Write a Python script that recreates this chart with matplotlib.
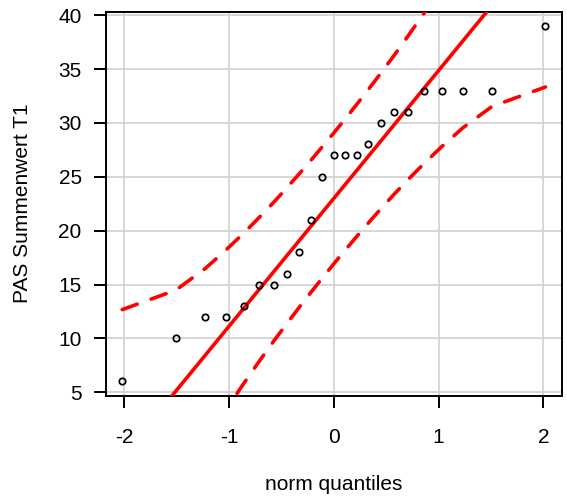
import numpy as np
import matplotlib
matplotlib.use("Agg")
import matplotlib.pyplot as plt

# Data (sorted sample values) and their normal quantiles
x_quantiles = [-2.02, -1.51, -1.23, -1.03, -0.86, -0.71, -0.57, -0.45, -0.33,
               -0.22, -0.11, 0.00, 0.11, 0.22, 0.33, 0.45, 0.57, 0.71, 0.86,
               1.03, 1.23, 1.51, 2.02]
y_values = [6, 10, 12, 12, 13, 15, 15, 16, 18, 21, 25, 27, 27, 27, 28, 30,
            31, 31, 33, 33, 33, 33, 39]
x_ticks = [-2, -1, 0, 1, 2]
y_ticks = [5, 10, 15, 20, 25, 30, 35, 40]
x_label = "norm quantiles"
y_label = "PAS Summenwert T1"

z = np.array(x_quantiles)
y = np.array(y_values, dtype=float)
n = len(y)

# robust line through quartiles (as car::qqPlot)
q1, q3 = np.percentile(y, [25, 75])
zq = 0.6744897501960817
slope = (q3 - q1) / (2 * zq)
intercept = q1 + slope * zq
fit = intercept + slope * z

# pointwise confidence envelope
P = np.array([(i - 0.5) / n for i in range(1, n + 1)])
dens = np.exp(-z ** 2 / 2) / np.sqrt(2 * np.pi)
se = (slope / dens) * np.sqrt(P * (1 - P) / n)
upper = fit + 1.959964 * se
lower = fit - 1.959964 * se

plt.rcParams['font.family'] = ['Liberation Sans', 'DejaVu Sans']

fig = plt.figure(figsize=(5.67, 4.97), dpi=100)
ax = fig.add_axes([0.187, 0.2038, 0.8037, 0.7727])

ax.set_xlim(-2.175, 2.175)
ax.set_ylim(4.68, 40.32)
ax.set_xticks(x_ticks)
ax.set_yticks(y_ticks)
ax.set_xticklabels([str(t) for t in x_ticks])
ax.set_yticklabels([str(t) for t in y_ticks])

ax.grid(True, color='#d3d3d3', lw=1.3)
ax.set_axisbelow(True)

xx = np.array([-2.175, 2.175])
ax.plot(xx, intercept + slope * xx, color='#ff0000', lw=2.6, zorder=3)
for band in (upper, lower):
    ax.plot(z, band, color='#ff0000', lw=2.6, linestyle=(0, (4.4, 4.1)),
            dash_capstyle='round', solid_capstyle='round', zorder=3)
ax.plot(z, y, linestyle='none', marker='o', markersize=4.6, markerfacecolor='none',
        markeredgecolor='black', markeredgewidth=1.25, zorder=4)

for s in ax.spines.values():
    s.set_linewidth(1.4)
    s.set_color('black')
ax.tick_params(axis='both', length=8.5, width=1.4, labelsize=15, color='black')
ax.tick_params(axis='x', pad=15)
ax.tick_params(axis='y', pad=9)

ax.set_xlabel(x_label, fontsize=15, labelpad=20)
ax.set_ylabel(y_label, fontsize=15, labelpad=19)

fig.savefig("out.png", dpi=100)
